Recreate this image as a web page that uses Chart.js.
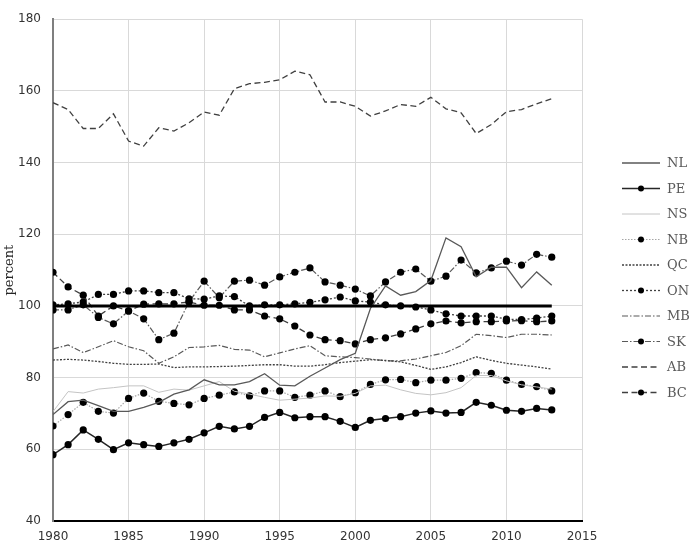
<!DOCTYPE html>
<html>
<head>
<meta charset="utf-8">
<script src="https://cdn.jsdelivr.net/npm/chart.js@4.4.0/dist/chart.umd.min.js"></script>
<style>
  html, body { margin: 0; padding: 0; background: #fff; }
  #chart { display: block; }
</style>
</head>
<body>
<canvas id="chart" width="700" height="554"></canvas>
<script>
  const years = [1980, 1981, 1982, 1983, 1984, 1985, 1986, 1987, 1988, 1989,
    1990, 1991, 1992, 1993, 1994, 1995, 1996, 1997, 1998, 1999,
    2000, 2001, 2002, 2003, 2004, 2005, 2006, 2007, 2008, 2009,
    2010, 2011, 2012, 2013];

  const nl = [69.7, 73.3, 73.7, 72.2, 70.6, 70.6, 71.7, 73.1, 75.4, 76.6,
    79.4, 78.0, 78.0, 78.9, 81.1, 77.9, 77.7, 80.4, 82.7, 85.0,
    86.8, 99.3, 105.6, 103.0, 104.0, 107.1, 119.0, 116.5, 108.1, 110.8,
    110.8, 105.1, 109.5, 105.8];
  const pe = [58.5, 61.3, 65.4, 62.8, 59.9, 61.8, 61.3, 60.8, 61.8, 62.8,
    64.6, 66.4, 65.7, 66.4, 68.9, 70.3, 68.8, 69.1, 69.1, 67.8,
    66.1, 68.1, 68.6, 69.1, 70.1, 70.7, 70.1, 70.3, 73.1, 72.3,
    70.9, 70.6, 71.4, 71.0];
  const ns = [70.5, 76.1, 75.7, 76.8, 77.2, 77.7, 77.7, 75.9, 76.8, 76.5,
    77.7, 78.9, 76.2, 75.4, 74.5, 73.7, 74.0, 74.3, 74.9, 74.8,
    75.6, 77.7, 77.9, 76.6, 75.6, 75.2, 75.8, 77.2, 80.6, 80.6,
    79.1, 78.0, 77.4, 76.8];
  const nb = [66.5, 69.7, 73.1, 70.6, 70.1, 74.2, 75.7, 73.4, 72.8, 72.4,
    74.2, 75.1, 76.0, 74.9, 76.3, 76.3, 74.5, 75.1, 76.3, 74.7,
    75.8, 78.1, 79.4, 79.5, 78.6, 79.3, 79.3, 79.8, 81.4, 81.2,
    79.3, 78.1, 77.5, 76.3];
  const qc = [84.9, 85.1, 84.9, 84.5, 84.0, 83.7, 83.7, 83.8, 82.8, 83.0,
    83.0, 83.1, 83.2, 83.4, 83.6, 83.6, 83.2, 83.2, 83.6, 84.2,
    84.6, 85.0, 84.8, 84.4, 83.4, 82.3, 83.0, 84.2, 85.8, 84.8,
    84.0, 83.5, 83.0, 82.4];
  const on = [100.3, 100.6, 101.1, 103.2, 103.2, 104.2, 104.2, 103.7, 103.7, 102.0,
    101.9, 102.8, 102.6, 100.0, 100.3, 100.3, 100.6, 101.0, 101.7, 102.5,
    101.4, 101.1, 100.3, 100.0, 99.7, 98.9, 97.8, 97.2, 97.2, 97.2,
    96.3, 96.2, 96.6, 97.2];
  const mb = [88.0, 89.1, 87.0, 88.6, 90.3, 88.6, 87.5, 84.0, 85.8, 88.4,
    88.6, 89.0, 87.9, 87.7, 85.8, 86.9, 88.0, 88.9, 86.1, 85.8,
    85.6, 85.2, 84.7, 84.7, 85.2, 86.1, 87.0, 88.9, 92.1, 91.7,
    91.2, 92.1, 92.1, 91.9];
  const sk = [98.9, 98.9, 100.3, 96.8, 95.0, 98.6, 96.4, 90.6, 92.4, 101.2,
    106.9, 102.3, 106.9, 107.2, 105.8, 108.1, 109.4, 110.6, 106.7, 105.8,
    104.7, 102.8, 106.7, 109.4, 110.3, 106.9, 108.3, 112.8, 109.2, 110.6,
    112.5, 111.4, 114.4, 113.6];
  const ab = [156.7, 154.8, 149.5, 149.5, 153.6, 146.0, 144.6, 149.7, 148.8, 151.1,
    154.1, 153.2, 160.6, 162.0, 162.4, 163.1, 165.5, 164.5, 156.9, 156.9,
    155.7, 153.0, 154.4, 156.2, 155.7, 158.2, 155.0, 153.9, 148.1, 150.6,
    154.2, 154.8, 156.4, 157.8];
  const bc = [109.4, 105.3, 103.0, 97.2, 100.0, 98.6, 100.5, 100.6, 100.6, 101.1,
    100.2, 100.2, 98.9, 98.9, 97.2, 96.4, 94.4, 91.9, 90.6, 90.3,
    89.4, 90.6, 91.1, 92.2, 93.6, 95.0, 95.8, 95.3, 95.6, 95.6,
    95.8, 95.9, 95.6, 95.8];

  // Canada = 100 reference line
  const refYears = [1980, 2013];
  const refValues = [100, 100];

  const xTicks = [1980, 1985, 1990, 1995, 2000, 2005, 2010, 2015];
  const yTicks = [40, 60, 80, 100, 120, 140, 160, 180];

  const toPoints = (xs, ys) => xs.map((x, i) => ({ x: x, y: ys[i] }));

  function series(label, values, color, width, dash, dots) {
    return {
      label: label,
      data: toPoints(years, values),
      borderColor: color,
      borderWidth: width,
      borderDash: dash,
      pointRadius: dots ? 3.6 : 0,
      pointBackgroundColor: "#000",
      pointBorderWidth: 0,
      pointHoverRadius: 0,
      tension: 0,
      fill: false,
    };
  }

  const datasets = [
    {
      label: "",
      data: toPoints(refYears, refValues),
      borderColor: "#000",
      borderWidth: 3,
      pointRadius: 0,
      tension: 0,
      fill: false,
    },
    series("NL", nl, "#595959", 1.3, [], false),
    series("PE", pe, "#262626", 1.5, [], true),
    series("NS", ns, "#c4c4c4", 1, [], false),
    series("NB", nb, "#a6a6a6", 1.2, [1.5, 1.5], true),
    series("QC", qc, "#404040", 1.3, [2, 1.5], false),
    series("ON", on, "#404040", 1.3, [2, 2], true),
    series("MB", mb, "#595959", 1.2, [6, 2, 1.5, 2], false),
    series("SK", sk, "#595959", 1.2, [6, 2, 1.5, 2], true),
    series("AB", ab, "#404040", 1.3, [6, 3.5], false),
    series("BC", bc, "#404040", 1.3, [6, 3.5], true),
  ];

  // legend drawn by hand so line dashes and markers show like the original
  const sideLegend = {
    id: "sideLegend",
    afterDraw(chart) {
      const ctx = chart.ctx;
      const x0 = 622, x1 = 660, textX = 667;
      let y = 163;
      ctx.save();
      chart.data.datasets.forEach((ds) => {
        if (!ds.label) return;
        ctx.beginPath();
        ctx.strokeStyle = ds.borderColor;
        ctx.lineWidth = ds.borderWidth;
        ctx.setLineDash(ds.borderDash || []);
        ctx.moveTo(x0, y);
        ctx.lineTo(x1, y);
        ctx.stroke();
        ctx.setLineDash([]);
        if (ds.pointRadius > 0) {
          ctx.beginPath();
          ctx.fillStyle = "#000";
          ctx.arc((x0 + x1) / 2, y, 3, 0, Math.PI * 2);
          ctx.fill();
        }
        ctx.fillStyle = "#595959";
        ctx.font = "13px 'DejaVu Serif'";
        ctx.textAlign = "left";
        ctx.textBaseline = "middle";
        ctx.fillText(ds.label, textX, y + 1);
        y += 25.5;
      });
      ctx.restore();
    },
  };

  new Chart(document.getElementById("chart"), {
    type: "line",
    data: { datasets: datasets },
    plugins: [sideLegend],
    options: {
      responsive: false,
      animation: false,
      events: [],
      layout: { padding: { top: 16, right: 118, bottom: 0, left: 0 } },
      scales: {
        x: {
          type: "linear",
          min: xTicks[0],
          max: xTicks[xTicks.length - 1],
          afterBuildTicks: (scale) => {
            scale.ticks = xTicks.map((v) => ({ value: v }));
          },
          afterFit: (scale) => { scale.height = 33; },
          grid: { color: "#d9d9d9", drawTicks: false },
          border: { color: "#000", width: 2 },
          ticks: {
            padding: 9,
            color: "#333",
            font: { family: "DejaVu Sans", size: 12 },
            callback: (v) => String(v),
          },
        },
        y: {
          min: yTicks[0],
          max: yTicks[yTicks.length - 1],
          afterBuildTicks: (scale) => {
            scale.ticks = yTicks.map((v) => ({ value: v }));
          },
          afterFit: (scale) => { scale.width = 53; },
          grid: { color: "#d9d9d9", drawTicks: false },
          border: { color: "#7f7f7f", width: 2 },
          ticks: {
            padding: 12,
            color: "#333",
            font: { family: "DejaVu Sans", size: 12 },
          },
          title: {
            display: true,
            text: "percent",
            color: "#262626",
            padding: { top: 2, bottom: 0 },
            font: { family: "DejaVu Serif", size: 13 },
          },
        },
      },
      plugins: {
        legend: { display: false },
        tooltip: { enabled: false },
        title: { display: false },
      },
    },
  });
</script>
</body>
</html>
